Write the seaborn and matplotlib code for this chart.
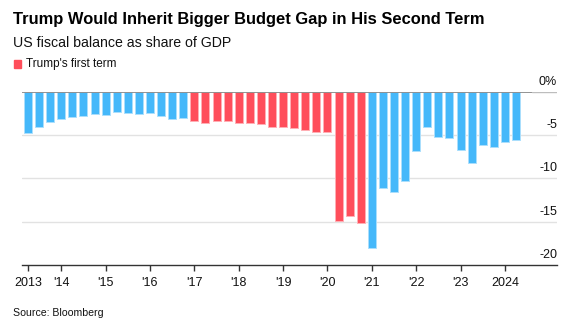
import matplotlib
matplotlib.use("Agg")
import matplotlib.pyplot as plt
import seaborn as sns
import pandas as pd
import numpy as np
from matplotlib.colors import to_rgb

# ---- data ----
quarters = [f"{y}Q{q}" for y in range(2013, 2025) for q in range(1, 5)][1:46]
balance = [-4.78, -4.05, -3.52, -3.13, -2.87, -2.79, -2.60, -2.68, -2.33, -2.41,
           -2.52, -2.45, -2.75, -3.10, -2.98,
           -3.33, -3.63, -3.33, -3.36, -3.59, -3.59, -3.71, -4.13, -4.05, -4.24,
           -4.47, -4.63, -4.70, -14.87, -14.37, -15.10,
           -18.0, -11.16, -11.54, -10.36, -6.88, -4.05, -5.24, -5.31, -6.69,
           -8.22, -6.19, -6.38, -5.85, -5.54]
term = ["Other"] * 15 + ["Trump's first term"] * 16 + ["Other"] * 14
tick_quarters = ["2013Q2", "2014Q1", "2015Q1", "2016Q1", "2017Q1", "2018Q1",
                 "2019Q1", "2020Q1", "2021Q1", "2022Q1", "2023Q1", "2024Q1"]
tick_labels = ["2013", "'14", "'15", "'16", "'17", "'18", "'19", "'20", "'21",
               "'22", "'23", "2024"]
y_ticks = [0, -5, -10, -15, -20]
y_tick_labels = ["0%", "-5", "-10", "-15", "-20"]

df = pd.DataFrame({"quarter": quarters, "balance": balance, "term": term})

BLUE = "#45B8FA"
RED = "#FF4E5B"

sns.set_theme(style="white")
plt.rcParams["font.family"] = ["Liberation Sans", "DejaVu Sans"]

W, H = 577, 333
fig = plt.figure(figsize=(W / 100, H / 100), dpi=100)
left_px, right_px, top_px, bot_px = 22, 557, 91.7, 265
ax = fig.add_axes([left_px / W, 1 - bot_px / H, (right_px - left_px) / W,
                   (bot_px - top_px) / H])

sns.barplot(data=df, x="quarter", y="balance", hue="term",
            palette={"Other": BLUE, "Trump's first term": RED},
            dodge=False, width=0.72, legend=False, ax=ax, saturation=1)

for p in ax.patches:
    fc = np.array(to_rgb(p.get_facecolor()))
    p.set_edgecolor(tuple(fc + (1 - fc) * 0.55))
    p.set_linewidth(0.7)

px_per_unit = (516 - 28) / 44
ax.set_xlim(-(28 - left_px) / px_per_unit, (right_px - 28) / px_per_unit)
ax.set_ylim(-20, 0)

for s in ["top", "right", "left"]:
    ax.spines[s].set_visible(False)
ax.spines["bottom"].set_color("#333333")
ax.spines["bottom"].set_linewidth(1.0)

for v in [-5, -10, -15]:
    ax.axhline(v, color="#e2e2e2", lw=1.0, zorder=0)
zfrac = (532 - left_px) / (right_px - left_px)
ax.axhline(0, xmin=0, xmax=zfrac, color="#8a8a8a", lw=1.3, zorder=3)
ax.axhline(0, xmin=zfrac, xmax=1, color="#bdbdbd", lw=1.0, zorder=3)

idx = [quarters.index(q) for q in tick_quarters]
ax.set_xticks(idx)
ax.set_xticklabels(tick_labels, fontsize=9, color="#111111")
ax.tick_params(axis="x", length=4, width=1, color="#333333", pad=5, bottom=True)
ax.set_yticks([])
ax.set_xlabel("")
ax.set_ylabel("")

for v, lab in zip(y_ticks, y_tick_labels):
    ax.annotate(lab, xy=(1.0, v), xycoords=("axes fraction", "data"),
                xytext=(0, 3), textcoords="offset points",
                ha="right", va="bottom", fontsize=9, color="#111111")

fig.text(13 / W, 1 - 19.5 / H, "Trump Would Inherit Bigger Budget Gap in His Second Term",
         fontsize=11.9, fontweight="bold", ha="left", va="center", color="#000000")
fig.text(13 / W, 1 - 43 / H, "US fiscal balance as share of GDP",
         fontsize=10.2, ha="left", va="center", color="#111111")
fig.patches.append(plt.Rectangle((14 / W, 1 - 68 / H), 7 / W, 8 / H,
                                 transform=fig.transFigure, color=RED))
fig.text(26 / W, 1 - 64 / H, "Trump's first term", fontsize=8.5,
         ha="left", va="center", color="#111111")
fig.text(13 / W, 1 - 313 / H, "Source: Bloomberg", fontsize=7.6,
         ha="left", va="center", color="#111111")

fig.savefig("out.png", dpi=100)
